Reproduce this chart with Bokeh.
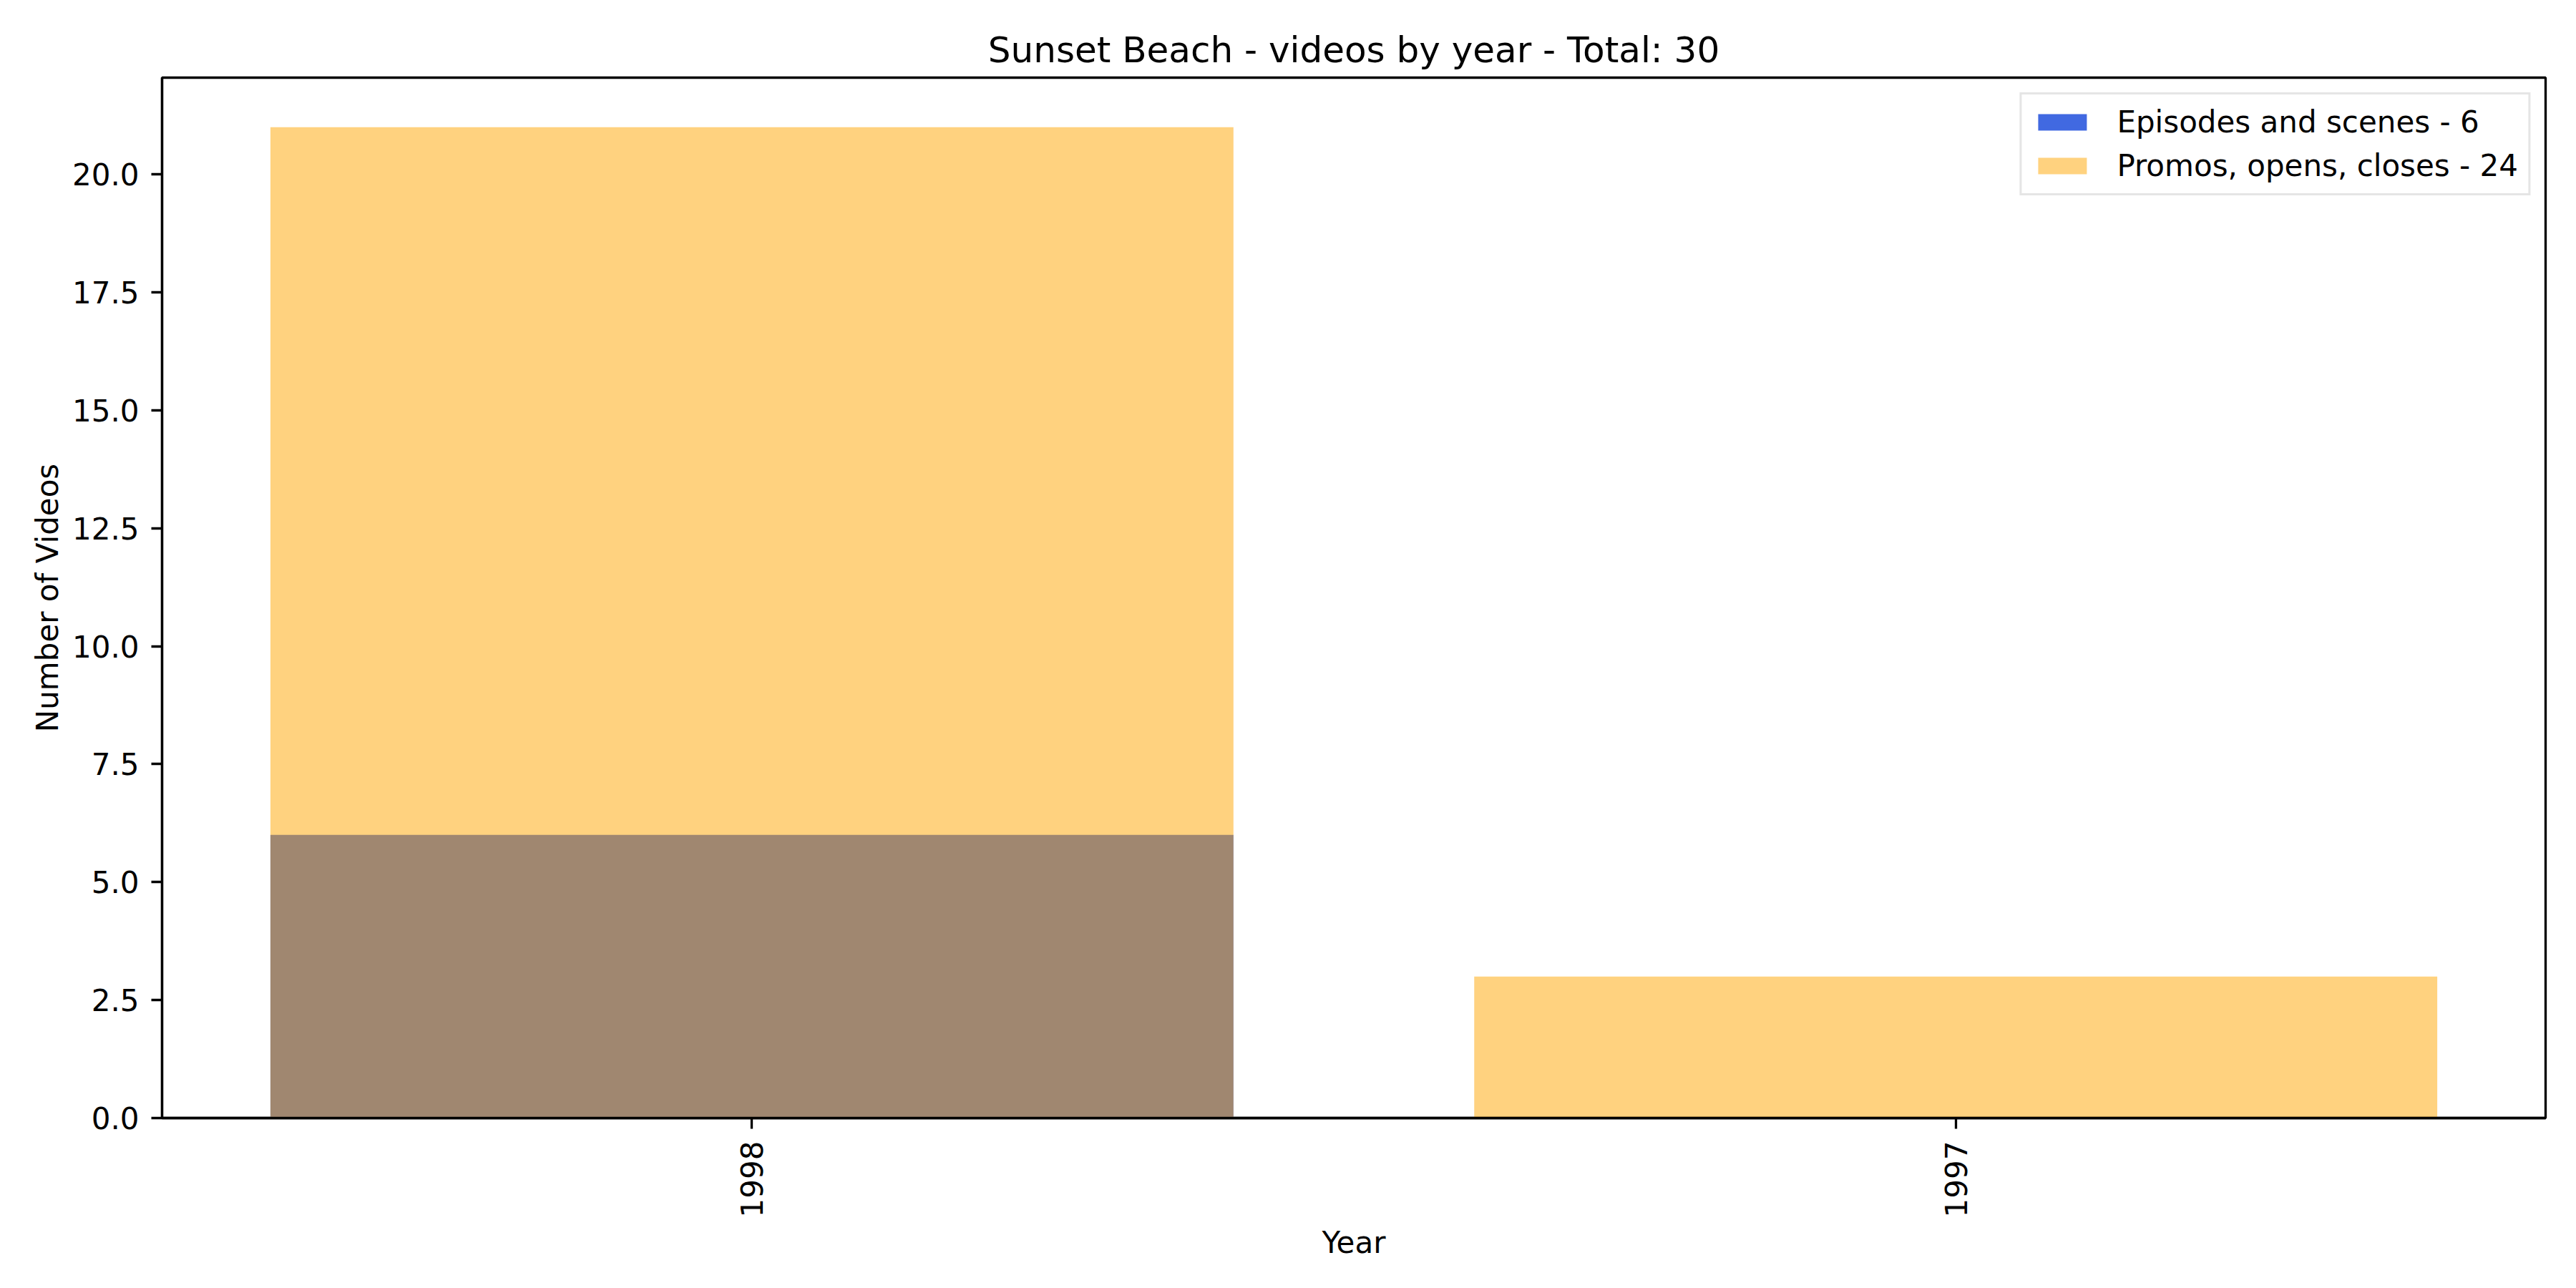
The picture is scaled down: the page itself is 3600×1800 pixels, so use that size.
import math
from bokeh.plotting import figure
from bokeh.models import Range1d, FixedTicker, PrintfTickFormatter, Legend, LegendItem
from bokeh.embed import file_html
from bokeh.resources import INLINE

years = ["1998", "1997"]
episodes = [6, 0]
promos = [21, 3]
title_text = "Sunset Beach - videos by year - Total: 30"
episodes_label = "Episodes and scenes - 6"
promos_label = "Promos, opens, closes - 24"
y_ticks = [0, 2.5, 5, 7.5, 10, 12.5, 15, 17.5, 20]

x_pos = list(range(len(years)))
ymax = max(max(episodes), max(promos)) * 1.05

FONT = "DejaVu Sans"
LW = 3.3

p = figure(width=3584, height=1784, output_backend="svg", toolbar_location=None,
           x_range=Range1d(-0.49, len(years) - 1 + 0.49), y_range=Range1d(0, ymax),
           min_border_left=226, min_border_right=27, min_border_top=108, min_border_bottom=222)

r1 = p.vbar(x=x_pos, top=episodes, width=0.8, bottom=0, fill_color="#4169E1", line_color=None)
r2 = p.vbar(x=x_pos, top=promos, width=0.8, bottom=0, fill_color="#FFA500", fill_alpha=0.5, line_color=None)

p.title.text = title_text
p.title.text_font = FONT
p.title.text_font_size = "50px"
p.title.text_font_style = "normal"
p.title.text_color = "black"
p.title.align = "center"
p.title.standoff = 20

p.xgrid.visible = False
p.ygrid.visible = False
p.background_fill_color = "white"
p.border_fill_color = "white"
p.outline_line_color = "black"
p.outline_line_width = LW
p.outline_line_alpha = 1.0

for ax in (p.xaxis[0], p.yaxis[0]):
    ax.axis_line_width = LW
    ax.major_tick_line_width = LW
    ax.major_tick_out = 15
    ax.major_tick_in = 0
    ax.minor_tick_line_color = None
    ax.major_label_text_font = FONT
    ax.major_label_text_font_size = "42px"
    ax.major_label_text_color = "black"
    ax.axis_label_text_font = FONT
    ax.axis_label_text_font_size = "42px"
    ax.axis_label_text_font_style = "normal"
    ax.axis_label_text_color = "black"
    ax.major_label_standoff = 17

p.xaxis.ticker = FixedTicker(ticks=x_pos)
p.xaxis.major_label_overrides = {i: y for i, y in zip(x_pos, years)}
p.xaxis.major_label_orientation = math.pi / 2
p.xaxis.axis_label = "Year"
p.xaxis.axis_label_standoff = 8

p.yaxis.ticker = FixedTicker(ticks=y_ticks)
p.yaxis.formatter = PrintfTickFormatter(format="%.1f")
p.yaxis.axis_label = "Number of Videos"
p.yaxis.axis_label_standoff = 7

legend = Legend(items=[LegendItem(label=episodes_label, renderers=[r1]),
                       LegendItem(label=promos_label, renderers=[r2])],
                location="top_right", margin=21, padding=14, spacing=12,
                glyph_width=85, glyph_height=29, label_height=42, label_standoff=34,
                label_text_font=FONT, label_text_font_size="42px", label_text_color="black",
                border_line_color="#cccccc", border_line_width=3,
                background_fill_color="white", background_fill_alpha=0.8)
p.add_layout(legend, "center")

open("out.html", "w").write(file_html(p, INLINE))
